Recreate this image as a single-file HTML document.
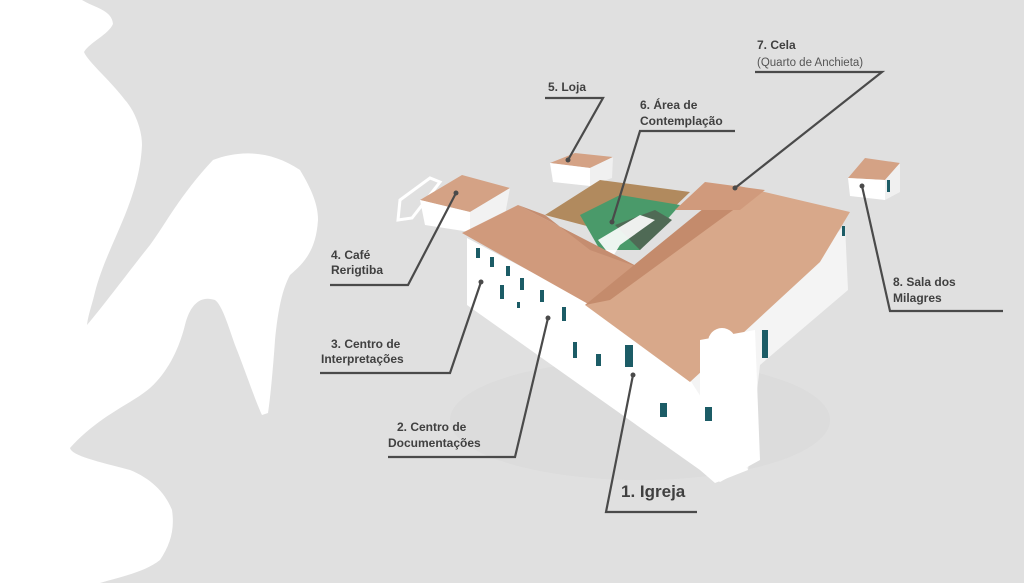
<!DOCTYPE html>
<html><head><meta charset="utf-8"><style>
html,body{margin:0;padding:0;width:1024px;height:583px;overflow:hidden;background:#e0e0e0}
svg{display:block}
text{font-family:"Liberation Sans",sans-serif;font-weight:bold;fill:#404040;font-size:12px}
</style></head><body>
<svg width="1024" height="583" viewBox="0 0 1024 583" xmlns="http://www.w3.org/2000/svg">
<rect width="1024" height="583" fill="#e0e0e0"/>
<path fill="#fff" d="M0,0 L82,0 C95,8 112,10 113,24 C108,35 90,42 84,52 C88,62 110,80 125,100 C135,111 142,130 142,145 C141,165 137,185 125,215 C115,240 102,265 95,292 C92,305 88,315 87,325 C100,310 130,270 150,245 C165,225 180,195 213,160 C240,150 270,150 300,170 C312,190 318,205 318,220 C316,250 305,262 290,275 C282,290 278,310 275,340 C273,370 270,400 268,413 L262,415 C255,400 245,370 235,345 C228,325 222,305 215,300 C200,295 190,305 185,325 C180,345 170,370 150,388 C130,405 100,415 70,448 C72,456 100,462 130,470 C150,478 165,492 172,510 C175,530 170,545 160,560 C145,572 120,577 100,583 L0,583 Z"/>
<ellipse cx="640" cy="420" rx="190" ry="60" fill="#d8d8d8" opacity="0.45"/>
<path d="M400,200 L430,178 L440,182 L412,218 L398,220Z" fill="none" stroke="#fff" stroke-width="3"/>
<polygon points="420,200 462,175 510,188 470,212" fill="#d4a285"/>
<polygon points="420,200 470,212 470,232 425,225" fill="#fff"/>
<polygon points="470,212 510,188 505,215 470,232" fill="#f2f2f2"/>
<polygon points="550,163 575,153 613,157 590,168" fill="#d4a285"/>
<polygon points="550,163 590,168 590,186 553,182" fill="#fff"/>
<polygon points="590,168 613,157 612,178 590,186" fill="#f0f0f0"/>
<polygon points="848,178 865,158 900,163 885,180" fill="#d4a285"/>
<polygon points="848,178 885,180 885,200 850,196" fill="#fff"/>
<polygon points="885,180 900,163 900,192 885,200" fill="#f0f0f0"/>
<rect x="887" y="180" width="3" height="12" fill="#1c5c66"/>
<polygon points="545,215 600,180 690,192 640,240" fill="#b18a5e"/>
<polygon points="580,215 620,195 680,205 640,250 600,250" fill="#4a9a6a"/>
<polygon points="615,225 655,210 672,220 640,250" fill="#4f6a55"/>
<polygon points="598,240 640,215 655,220 620,245 612,258" fill="#fff" opacity="0.9"/>
<polygon points="467,238 600,308 700,365 745,360 748,470 715,483 700,470 467,305" fill="#fff"/>
<polygon points="690,380 845,225 848,290 760,365 748,470" fill="#f4f4f4"/>
<polygon points="462,233 518,205 640,268 590,305" fill="#d09a7c"/>
<polygon points="518,205 545,215 590,250 640,268" fill="#c58d70"/>
<polygon points="585,305 735,185 850,212 820,262 690,382" fill="#d8a88a"/>
<polygon points="585,305 720,195 740,205 610,300" fill="#c48b6c"/>
<polygon points="675,210 705,182 765,190 740,210" fill="#d09a7c"/>
<polygon points="700,340 755,330 760,460 720,482 700,470" fill="#fff"/>
<circle cx="722" cy="342" r="14" fill="#fff"/>
<g fill="#1c5c66">
<rect x="476" y="248" width="4" height="10"/><rect x="490" y="257" width="4" height="10"/>
<rect x="506" y="266" width="4" height="10"/><rect x="520" y="278" width="4" height="12"/>
<rect x="540" y="290" width="4" height="12"/><rect x="562" y="307" width="4" height="14"/>
<rect x="500" y="285" width="4" height="14"/><rect x="517" y="302" width="3" height="6"/>
<rect x="573" y="342" width="4" height="16"/><rect x="596" y="354" width="5" height="12"/>
<rect x="625" y="345" width="8" height="22"/><rect x="660" y="403" width="7" height="14"/>
<rect x="705" y="407" width="7" height="14"/><rect x="762" y="330" width="6" height="28"/>
<rect x="842" y="226" width="3" height="10"/>
</g>
<g stroke="#4a4a4a" stroke-width="2.2" fill="none">
<polyline points="545,98 603,98 568,160"/>
<polyline points="735,131 640,131 612,222"/>
<polyline points="755,72 882,72 735,188"/>
<polyline points="330,285 408,285 456,193"/>
<polyline points="320,373 450,373 481,282"/>
<polyline points="388,457 515,457 548,318"/>
<polyline points="697,512 606,512 633,375"/>
<polyline points="1003,311 890,311 862,186"/>
</g>
<g fill="#4a4a4a"><circle cx="568" cy="160" r="2.5"/><circle cx="612" cy="222" r="2.5"/><circle cx="735" cy="188" r="2.5"/><circle cx="456" cy="193" r="2.5"/><circle cx="481" cy="282" r="2.5"/><circle cx="548" cy="318" r="2.5"/><circle cx="633" cy="375" r="2.5"/><circle cx="862" cy="186" r="2.5"/></g>
<text x="548" y="91">5. Loja</text>
<text x="640" y="109">6. Área de</text>
<text x="640" y="125">Contemplação</text>
<text x="757" y="49">7. Cela</text>
<text x="757" y="66" style="font-weight:normal;fill:#555;font-size:11.5px">(Quarto de Anchieta)</text>
<text x="331" y="259">4. Café</text>
<text x="331" y="274">Rerigtiba</text>
<text x="331" y="348">3. Centro de</text>
<text x="321" y="363">Interpretações</text>
<text x="397" y="431">2. Centro de</text>
<text x="388" y="447">Documentações</text>
<text x="621" y="497" style="font-size:17px">1. Igreja</text>
<text x="893" y="286">8. Sala dos</text>
<text x="893" y="302">Milagres</text>
</svg>
</body></html>
